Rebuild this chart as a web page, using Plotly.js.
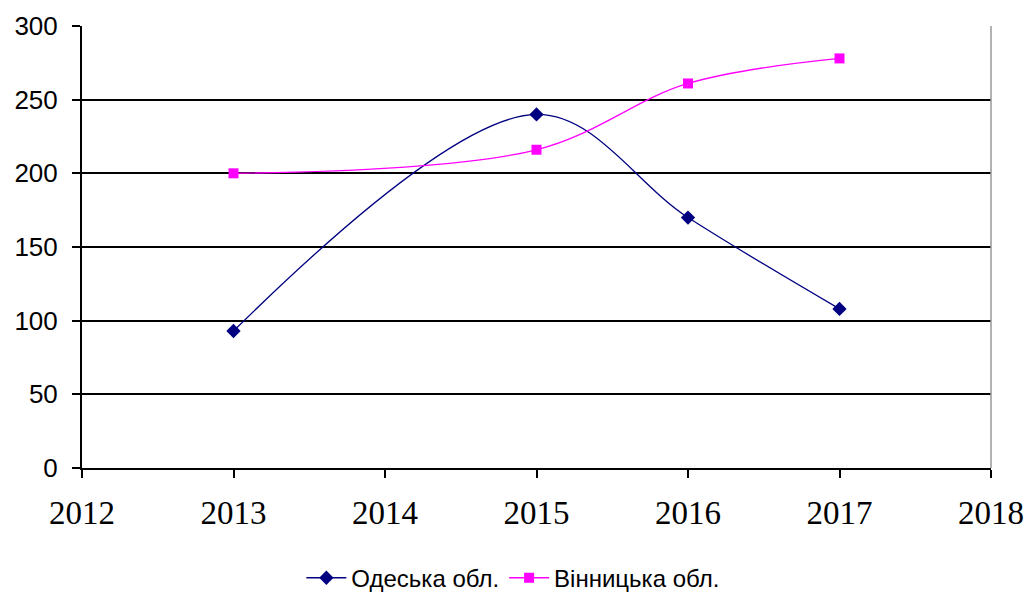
<!DOCTYPE html>
<html>
<head>
<meta charset="utf-8">
<script src="https://cdn.plot.ly/plotly-3.0.1.min.js"></script>
<style>html,body{margin:0;padding:0;background:#fff;}#chart{width:1034px;height:601px;}</style>
</head>
<body>
<div id="chart"></div>
<script>
const odesaYears = [2013, 2015, 2016, 2017];
const odesaValues = [93, 240, 170, 108];
const vinnytsiaYears = [2013, 2015, 2016, 2017];
const vinnytsiaValues = [200, 216, 261, 278];
const seriesNames = ['Одеська обл.', 'Вінницька обл.'];
const xTicks = [2012, 2013, 2014, 2015, 2016, 2017, 2018];
const yTicks = [0, 50, 100, 150, 200, 250, 300];

const traces = [
  {
    x: odesaYears, y: odesaValues, name: seriesNames[0],
    type: 'scatter', mode: 'lines+markers',
    line: {color: '#000080', width: 1.3, shape: 'spline', smoothing: 1},
    marker: {symbol: 'diamond', size: 11, color: '#000080'}
  },
  {
    x: vinnytsiaYears, y: vinnytsiaValues, name: seriesNames[1],
    type: 'scatter', mode: 'lines+markers',
    line: {color: '#FF00FF', width: 1.3, shape: 'spline', smoothing: 1},
    marker: {symbol: 'square', size: 10, color: '#FF00FF'}
  }
];

const layout = {
  width: 1034, height: 601,
  margin: {l: 82, r: 43, t: 26, b: 133},
  paper_bgcolor: '#fff', plot_bgcolor: '#fff',
  showlegend: true,
  legend: {orientation: 'h', x: 0.474, xanchor: 'center', yref: 'container', y: 0.038, yanchor: 'middle',
           font: {family: 'Liberation Sans, Arial, sans-serif', size: 24, color: '#000'},
           itemwidth: 40},
  xaxis: {
    range: [2012, 2018], tickvals: xTicks, ticktext: xTicks.map(String),
    showgrid: false, zeroline: false, automargin: false,
    showline: true, linecolor: '#000', linewidth: 2,
    ticks: 'outside', ticklen: 8, tickwidth: 2, tickcolor: '#000',
    tickfont: {family: 'Liberation Serif, Times New Roman, serif', size: 33, color: '#000'},
    ticklabelstandoff: 6
  },
  yaxis: {
    range: [0, 300], tickvals: yTicks, ticktext: yTicks.map(String),
    showgrid: true, gridcolor: '#000', gridwidth: 2,
    zeroline: false, automargin: false,
    showline: true, linecolor: '#000', linewidth: 2,
    ticks: 'outside', ticklen: 8, tickwidth: 2, tickcolor: '#000',
    tickfont: {family: 'Liberation Sans, Arial, sans-serif', size: 26, color: '#000'},
    ticklabelstandoff: 9
  },
  shapes: [
    {type: 'line', xref: 'paper', yref: 'paper', x0: 1, x1: 1, y0: 0, y1: 1,
     line: {color: '#999', width: 1.5}}
  ]
};

Plotly.newPlot('chart', traces, layout, {displayModeBar: false, staticPlot: true});
</script>
</body>
</html>
